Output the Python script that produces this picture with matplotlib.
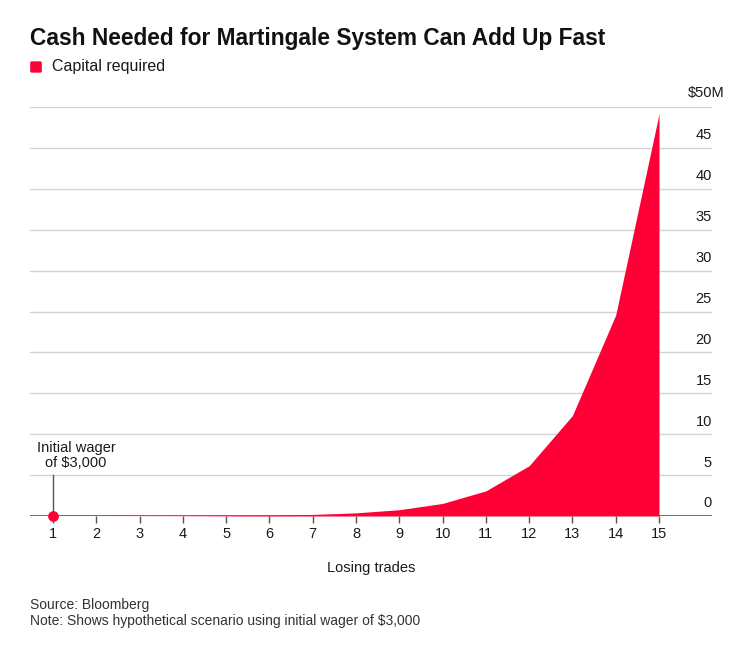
import matplotlib
matplotlib.use("Agg")
import matplotlib.pyplot as plt
import matplotlib.transforms as mtransforms
from matplotlib.patches import FancyBboxPatch

plt.rcParams["font.family"] = ["Liberation Sans", "DejaVu Sans"]

# capital required ($M) after each losing trade
trades = [1, 2, 3, 4, 5, 6, 7, 8, 9, 10, 11, 12, 13, 14, 15]
capital = [0.003, 0.006, 0.012, 0.024, 0.048, 0.096, 0.192, 0.384, 0.768,
           1.536, 3.072, 6.144, 12.288, 24.576, 49.152]
y_ticks = [0, 5, 10, 15, 20, 25, 30, 35, 40, 45]
y_top = 50
y_top_label = "$50M"

RED = "#ff0036"
GRID = "#d4d4d4"
AXIS = "#555555"
TXT = "#1a1a1a"

fig = plt.figure(figsize=(7.56, 6.52), dpi=100)
ax = fig.add_axes([30 / 756, (652 - 516) / 652, 682 / 756, 409 / 652])

ax.fill_between(trades, 0, capital, color=RED, lw=0, zorder=2)
ax.set_xlim(0.469, 16.224)
ax.set_ylim(0, y_top)

# gridlines
for v in y_ticks[1:] + [y_top]:
    ax.axhline(v, color=GRID, lw=1, zorder=1)
ax.axhline(0, color=AXIS, lw=1.2, zorder=3)

for s in ax.spines.values():
    s.set_visible(False)

# y labels sit above their gridlines at the right edge
up = mtransforms.ScaledTranslation(0, 4 / 72, fig.dpi_scale_trans)
ytr = ax.get_yaxis_transform() + up
for v in y_ticks:
    ax.text(1.0, v, str(v), transform=ytr, ha="right", va="bottom",
            fontsize=10.5, color=TXT)
right = mtransforms.ScaledTranslation(9 / 72, 5 / 72, fig.dpi_scale_trans)
ax.text(1.0, y_top, y_top_label, transform=ax.get_yaxis_transform() + right,
        ha="right", va="bottom", fontsize=10.5, color=TXT)

ax.set_yticks([])
ax.set_xticks(trades)
ax.set_xticklabels([str(t) for t in trades])
ax.tick_params(axis="x", length=5, width=1, color=AXIS, labelsize=10.5,
               labelcolor=TXT, pad=3)
ax.set_xlabel("Losing trades", fontsize=10.5, color=TXT, labelpad=14)

# annotation for the first trade
ax.plot([trades[0], trades[0]], [0, 5], color=AXIS, lw=1, zorder=3)
ax.scatter([trades[0]], [capital[0]], s=45, color=RED, zorder=4, clip_on=False)
ax.text(1.53, 5, "Initial wager\nof $3,000", ha="center", va="bottom",
        fontsize=10.5, color=TXT, linespacing=1.05,
        transform=ax.transData + mtransforms.ScaledTranslation(0, 4 / 72, fig.dpi_scale_trans))

# title and legend
fig.text(30 / 756, 1 - 38 / 652, "Cash Needed for Martingale System Can Add Up Fast",
         fontsize=16.4, fontweight="bold", va="center", ha="left", color="#111111")
fig.patches.append(FancyBboxPatch((32 / 756, 1 - 71 / 652), 8 / 756, 8 / 652,
                                  boxstyle="round,pad=0.0015",
                                  transform=fig.transFigure, color=RED, figure=fig))
fig.text(52 / 756, 1 - 67 / 652, "Capital required", fontsize=11.5, va="center",
         ha="left", color=TXT)

fig.text(30 / 756, 1 - 605 / 652, "Source: Bloomberg", fontsize=10, va="center",
         color="#333333")
fig.text(30 / 756, 1 - 621 / 652, "Note: Shows hypothetical scenario using initial wager of $3,000",
         fontsize=10, va="center", color="#333333")

fig.savefig("out.png", dpi=100)
